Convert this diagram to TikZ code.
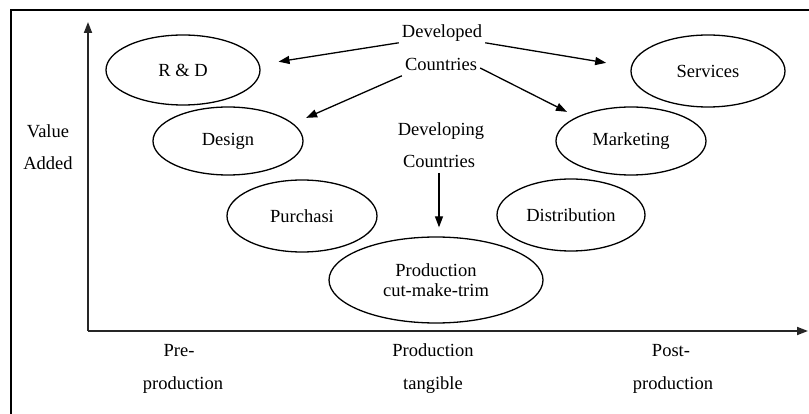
\documentclass[tikz,border=0pt]{standalone}
\usepackage{fontspec}
\setmainfont{Liberation Serif}
\newfontfamily\diagfont{Liberation Serif}
\usetikzlibrary{shapes.geometric,arrows.meta}

\begin{document}
\begin{tikzpicture}[x=1pt,y=-1pt,
		every node/.style={font=\diagfont\fontsize{18.5}{20}\selectfont},
		label/.style={inner sep=3pt,text height=0.7em,text depth=0.22em},
		stage/.style={draw,ellipse,line width=1.3pt,inner sep=0pt,align=center},
		tip/.style={-{Triangle[length=11pt,width=8pt]},line width=1.3pt}]
		\useasboundingbox (0,0) rectangle (809,414);
		\draw[line width=2pt] (11,420) -- (11,10) -- (815,10);
		\coordinate (origin) at (88,331);
		\coordinate (ytop) at (88,22);
		\coordinate (xend) at (808,331);
		\draw[tip,line width=1.8pt,black!85] (origin) -- (ytop);
		\draw[tip,line width=1.8pt,black!85] (origin) -- (xend);
		\foreach \name/\x/\y/\rx/\ry/\txt in {rd/183/70/77/35/{R \& D},design/228/141/75/34/Design,purch/302/216/75/36/Purchasi,prod/436/280/107/43/{Production\\cut-make-trim},distr/571/215/74/36/Distribution,mkt/631/141/75/34/Marketing,serv/708/71/77/36/Services}
		{
			\node[stage,minimum width=2*\rx,minimum height=2*\ry] (\name) at (\x,\y) {\txt};
		}
		\foreach \name/\x/\y/\txt in {dev1/442/35/Developed,dev2/441/68/Countries,dvg1/441/133/Developing,dvg2/439/165/Countries,val1/48/135/Value,val2/48/167/Added,pre1/179/354/Pre-,pre2/183/387/production,mid1/433/354/Production,mid2/433/387/tangible,post1/671/354/Post-,post2/673/387/production}
		{
			\node[label] (\name) at (\x,\y) {\txt};
		}
		\draw[tip,shorten >=19pt] (dev1.south west) -- (rd.4);
		\draw[tip,shorten >=14pt] (dev2.south west) -- (design.15);
		\draw[tip,shorten >=25pt] (dev1.south east) -- (serv.177);
		\draw[tip,shorten >=11pt] (dev2.east) -- (mkt.156);
		\draw[tip,shorten >=9pt] (dvg2.south) -- (dvg2.south |- prod.north);
\end{tikzpicture}
\end{document}
